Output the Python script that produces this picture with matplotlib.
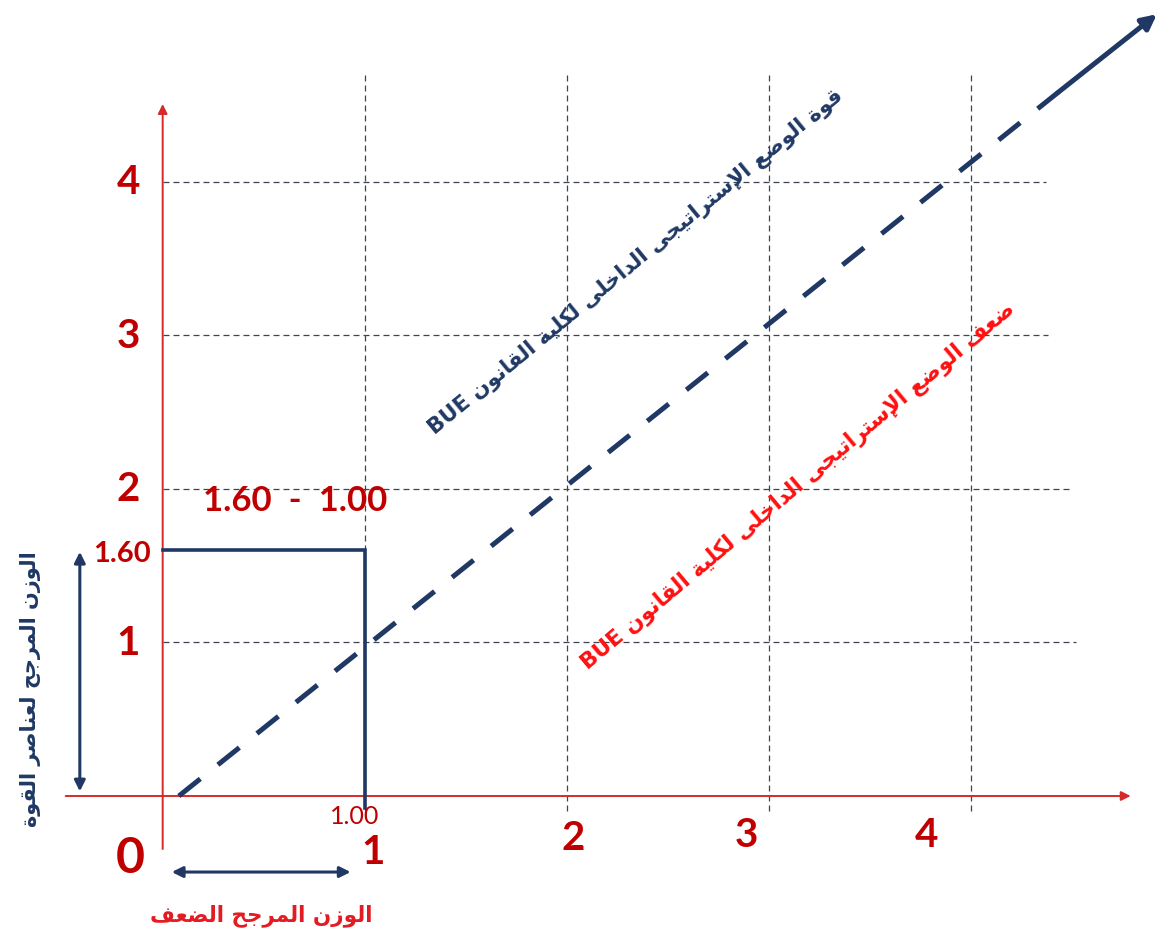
import matplotlib
matplotlib.use('Agg')
import matplotlib.pyplot as plt

# --- données ---
grid_x = [1, 2, 3, 4]
grid_y = [1, 2, 3, 4]
x_labels = ['1', '2', '3', '4']
y_labels = ['1', '2', '3', '4']

diag_x = [0.08, 4.43, 4.92]      # droite pointillée + fin en flèche
diag_y = [0.0, 4.58, 5.09]

box_x = [0, 1, 1]                 # repère 1.00 / 1.60
box_y = [1.60, 1.60, -0.08]
weak_value = 1.00
strong_value = 1.60

txt_strong = 'قوة الوضع الإستراتيجى الداخلى لكلية القانون BUE'
txt_weak = 'ضعف الوضع الإستراتيجى الداخلى لكلية القانون BUE'
txt_yaxis = 'الوزن المرجح لعناصر القوة'
txt_xaxis = 'الوزن المرجح الضعف'

# --- mise en forme arabe minimale (matplotlib ne fait pas le shaping) ---
FORMS = {
    '\u0627': ('\uFE8D', '\uFE8E', None, None),
    '\u0625': ('\uFE87', '\uFE88', None, None),
    '\u0629': ('\uFE93', '\uFE94', None, None),
    '\u062A': ('\uFE95', '\uFE96', '\uFE97', '\uFE98'),
    '\u062C': ('\uFE9D', '\uFE9E', '\uFE9F', '\uFEA0'),
    '\u062D': ('\uFEA1', '\uFEA2', '\uFEA3', '\uFEA4'),
    '\u062E': ('\uFEA5', '\uFEA6', '\uFEA7', '\uFEA8'),
    '\u062F': ('\uFEA9', '\uFEAA', None, None),
    '\u0631': ('\uFEAD', '\uFEAE', None, None),
    '\u0632': ('\uFEAF', '\uFEB0', None, None),
    '\u0633': ('\uFEB1', '\uFEB2', '\uFEB3', '\uFEB4'),
    '\u0635': ('\uFEB9', '\uFEBA', '\uFEBB', '\uFEBC'),
    '\u0636': ('\uFEBD', '\uFEBE', '\uFEBF', '\uFEC0'),
    '\u0639': ('\uFEC9', '\uFECA', '\uFECB', '\uFECC'),
    '\u0641': ('\uFED1', '\uFED2', '\uFED3', '\uFED4'),
    '\u0642': ('\uFED5', '\uFED6', '\uFED7', '\uFED8'),
    '\u0643': ('\uFED9', '\uFEDA', '\uFEDB', '\uFEDC'),
    '\u0644': ('\uFEDD', '\uFEDE', '\uFEDF', '\uFEE0'),
    '\u0645': ('\uFEE1', '\uFEE2', '\uFEE3', '\uFEE4'),
    '\u0646': ('\uFEE5', '\uFEE6', '\uFEE7', '\uFEE8'),
    '\u0647': ('\uFEE9', '\uFEEA', '\uFEEB', '\uFEEC'),
    '\u0648': ('\uFEED', '\uFEEE', None, None),
    '\u0649': ('\uFEEF', '\uFEF0', None, None),
    '\u064A': ('\uFEF1', '\uFEF2', '\uFEF3', '\uFEF4'),
}
LAM_ALEF = {'\u0627': ('\uFEFB', '\uFEFC'), '\u0623': ('\uFEF7', '\uFEF8'),
            '\u0625': ('\uFEF9', '\uFEFA'), '\u0622': ('\uFEF5', '\uFEF6')}


def joins_next(c):
    return c in FORMS and FORMS[c][2] is not None


def shape_word(w):
    out, i = [], 0
    while i < len(w):
        c = w[i]
        pj = i > 0 and joins_next(w[i - 1])
        if c == '\u0644' and i + 1 < len(w) and w[i + 1] in LAM_ALEF:
            iso, fin = LAM_ALEF[w[i + 1]]
            out.append(fin if pj else iso)
            i += 2
            continue
        if c not in FORMS:
            out.append(c)
            i += 1
            continue
        nj = joins_next(c) and i + 1 < len(w) and w[i + 1] in FORMS
        iso, fin, ini, med = FORMS[c]
        out.append(med if (pj and nj) else fin if pj else ini if nj else iso)
        i += 1
    return ''.join(out)


def rtl(text):
    vis = []
    for w in reversed(text.split(' ')):
        if any(ch in FORMS for ch in w):
            vis.append(shape_word(w)[::-1])
        else:
            vis.append(w)
    return ' '.join(vis)


NAVY = '#1F3864'
DARK_RED = '#C00000'
AXIS_RED = '#D42A2A'
GRID = '#3E4452'
NUM_FONT = ['Lato', 'DejaVu Sans']

fig = plt.figure(figsize=(11.63, 9.45), dpi=100)
ax = fig.add_axes([0, 0, 1, 1])
ax.set_xlim(-0.805, 4.950)
ax.set_ylim(-0.9635, 5.189)
ax.axis('off')

# grille pointillée
grid_h_end = [4.52, 4.49, 4.38, 4.37]
for y, xe in zip(grid_y, grid_h_end):
    ax.plot([0, xe], [y, y], color=GRID, lw=0.9, dashes=(4.8, 3.2), zorder=1)
for x in grid_x:
    ax.plot([x, x], [-0.1, 4.70], color=GRID, lw=0.9, dashes=(4.8, 3.2), zorder=1)

# axes rouges avec flèches
ax.annotate('', xy=(0, 4.505), xytext=(0, -0.345),
            arrowprops=dict(arrowstyle='-|>', color=AXIS_RED, lw=1.4,
                            mutation_scale=14, shrinkA=0, shrinkB=0), zorder=2)
ax.annotate('', xy=(4.79, 0), xytext=(-0.48, 0),
            arrowprops=dict(arrowstyle='-|>', color=AXIS_RED, lw=1.4,
                            mutation_scale=14, shrinkA=0, shrinkB=0), zorder=2)

# diagonale
ax.plot(diag_x[:2], diag_y[:2], color=NAVY, lw=3.6, dashes=(5.5, 4.5), zorder=3)
ax.annotate('', xy=(diag_x[2], diag_y[2]), xytext=(diag_x[1], diag_y[1]),
            arrowprops=dict(arrowstyle='-|>', color=NAVY, lw=3.6,
                            mutation_scale=22, shrinkA=0, shrinkB=0), zorder=3)

# cadre 1.00 / 1.60
ax.plot(box_x, box_y, color=NAVY, lw=2.6, solid_joinstyle='miter', zorder=3)

# flèches doubles
ax.annotate('', xy=(-0.41, strong_value - 0.01), xytext=(-0.41, 0.03),
            arrowprops=dict(arrowstyle='<|-|>', color=NAVY, lw=2.2,
                            mutation_scale=16, shrinkA=0, shrinkB=0))
ax.annotate('', xy=(weak_value - 0.07, -0.495), xytext=(0.045, -0.495),
            arrowprops=dict(arrowstyle='<|-|>', color=NAVY, lw=2.2,
                            mutation_scale=16, shrinkA=0, shrinkB=0))

# graduations
for y, lab in zip(grid_y, y_labels):
    ax.text(-0.17, y, lab, color=DARK_RED, fontsize=29, fontweight='bold',
            family=NUM_FONT, ha='center', va='center')
x_shift = [0.04, 0.03, -0.11, -0.22]
x_drop = [-0.36, -0.27, -0.25, -0.25]
for x, lab, dx, dy in zip(grid_x, x_labels, x_shift, x_drop):
    ax.text(x + dx, dy, lab, color=DARK_RED, fontsize=29, fontweight='bold',
            family=NUM_FONT, ha='center', va='center')
ax.text(-0.16, -0.40, '0', color=DARK_RED, fontsize=36, fontweight='bold',
        family=NUM_FONT, ha='center', va='center')

ax.text(-0.20, strong_value - 0.02, f'{strong_value:.2f}', color=DARK_RED, fontsize=21,
        fontweight='bold', family=NUM_FONT, ha='center', va='center')
ax.text(0.655, 1.93, f'{strong_value:.2f}  -  {weak_value:.2f}', color=DARK_RED,
        fontsize=25, fontweight='bold', family=NUM_FONT, ha='center', va='center')
ax.text(weak_value - 0.05, -0.125, f'{weak_value:.2f}', color=DARK_RED, fontsize=18,
        family=NUM_FONT, ha='center', va='center')

# textes arabes
ax.text(2.342, 3.48, rtl(txt_strong), color=NAVY, fontsize=15.3, fontweight='bold',
        family='DejaVu Sans', rotation=39.5, rotation_mode='anchor',
        ha='center', va='center')
ax.text(3.144, 2.03, rtl(txt_weak), color='#FF1010', fontsize=15.6, fontweight='bold',
        family='DejaVu Sans', rotation=40, rotation_mode='anchor',
        ha='center', va='center')
ax.text(-0.655, 0.70, rtl(txt_yaxis), color=NAVY, fontsize=15, fontweight='bold',
        family='DejaVu Sans', rotation=90, rotation_mode='anchor',
        ha='center', va='center')
ax.text(0.49, -0.77, rtl(txt_xaxis), color='#E31B23', fontsize=15.5, fontweight='bold',
        family='DejaVu Sans', ha='center', va='center')

fig.savefig('out.png', dpi=100)
